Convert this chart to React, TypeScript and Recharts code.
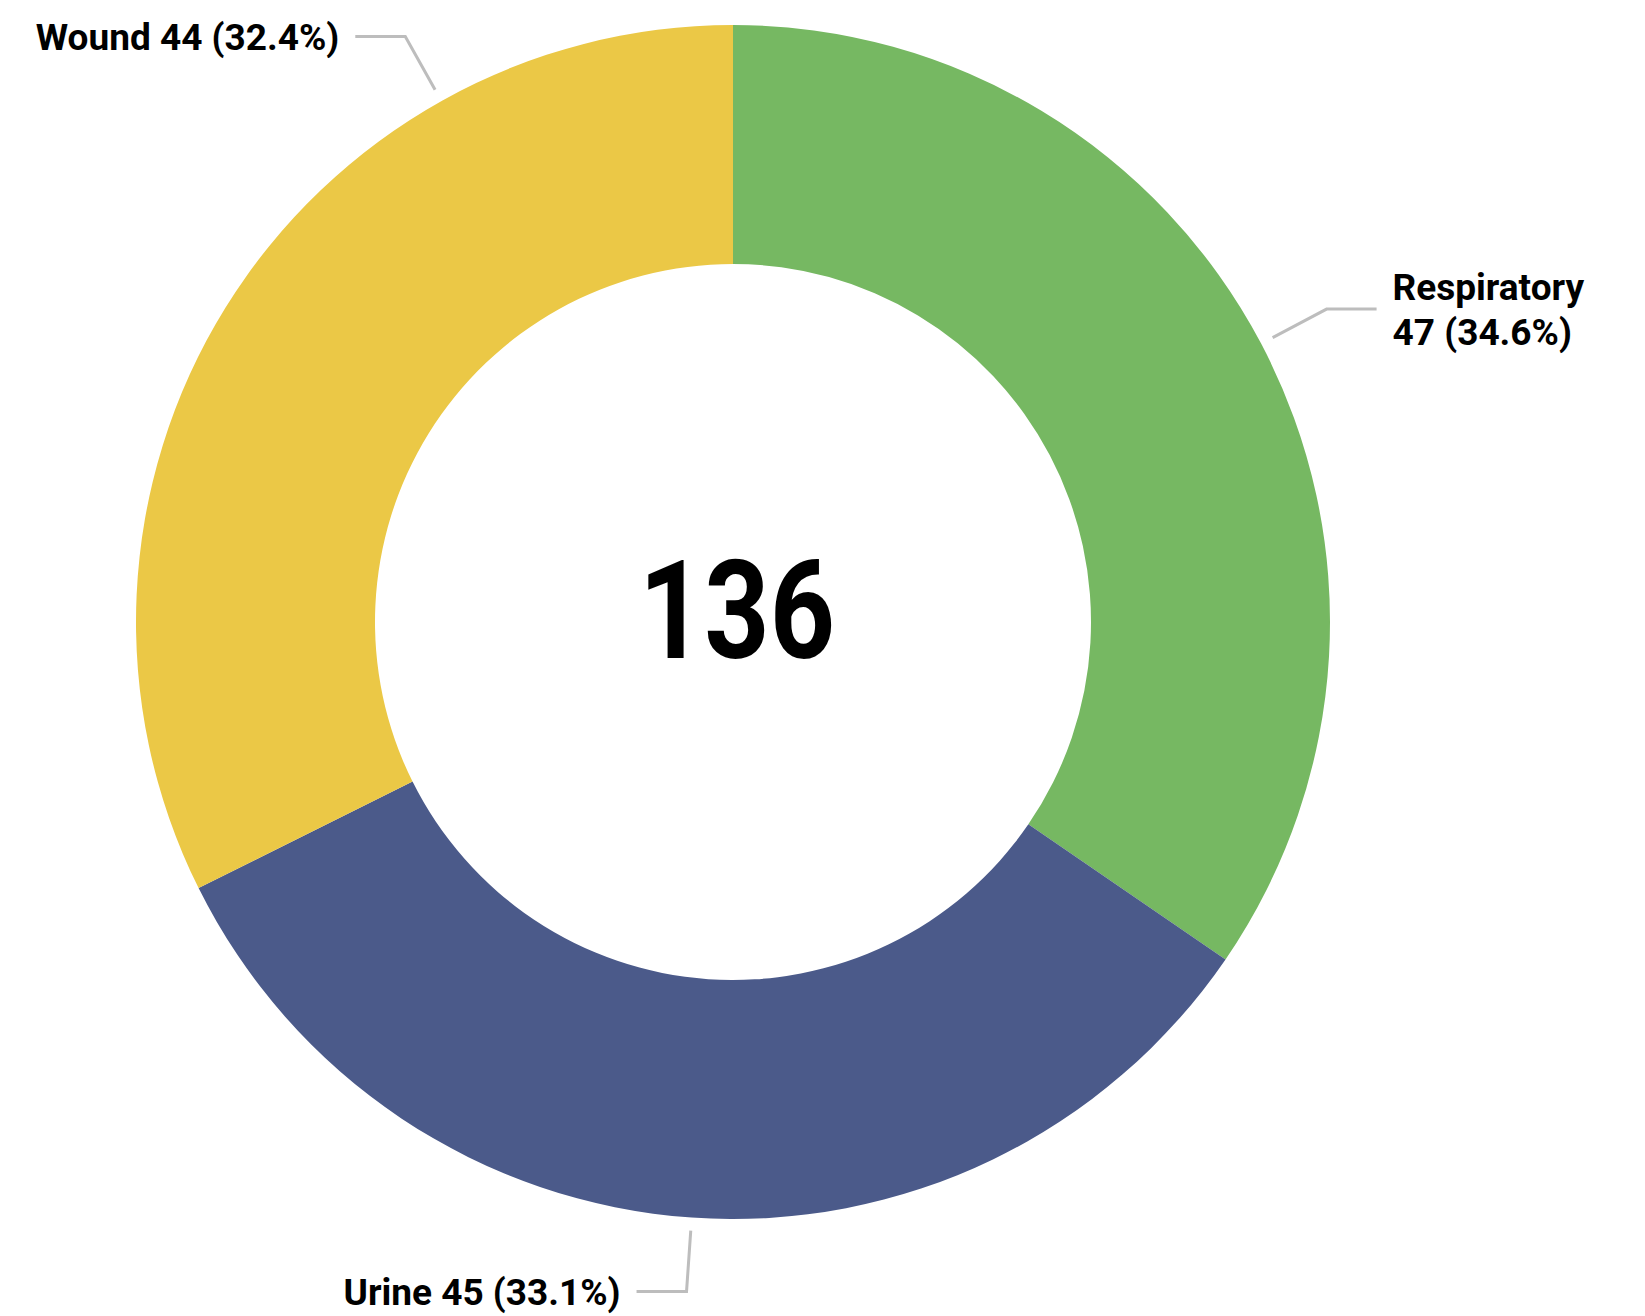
import { PieChart, Pie, Cell } from "recharts";

// ── Data ──────────────────────────────────────────────────────────────────────

const categories = ["Respiratory", "Urine", "Wound"];
const counts = [47, 45, 44];
const colors = ["#76B862", "#4B5A8A", "#EBC846"];

// label leader tweak: degrees (clockwise) added to a slice's mid angle
const labelShift: Record<string, number> = { Wound: 29 };

// ── Layout / style ────────────────────────────────────────────────────────────

const FONT = 'Roboto, "Noto Sans", sans-serif';
const W = 1645;
const H = 1316;
const LINE_COLOR = "#BDBDBD";
const LABEL_SIZE = 37;
const RAD = Math.PI / 180;

const total = counts.reduce((a, b) => a + b, 0);
const chartData = categories.map((name, i) => ({ name, value: counts[i], fill: colors[i] }));

function SliceLabel(props: any) {
  const { cx, cy, midAngle, outerRadius, name, value, index } = props;
  const ang = midAngle - (labelShift[name] || 0);
  const cos = Math.cos(-ang * RAD);
  const sin = Math.sin(-ang * RAD);
  const x1 = cx + (outerRadius + 13) * cos;
  const y1 = cy + (outerRadius + 13) * sin;
  const x2 = cx + (outerRadius + 74) * cos;
  const y2 = cy + (outerRadius + 74) * sin;
  const right = cos >= 0;
  const x3 = x2 + (right ? 50 : -50);
  const tx = x3 + (right ? 16 : -16);
  const pct = ((value / total) * 100).toFixed(1);
  const line1 = `${name} ${value} (${pct}%)`;
  const estW = line1.length * LABEL_SIZE * 0.45;
  const wrap = right ? tx + estW > W : tx - estW < 0;
  const capMid = LABEL_SIZE * 0.36;
  const lh = 45;

  return (
    <g>
      {index === 0 && (
        <text
          x={cx + 4}
          y={cy + 36}
          textAnchor="middle"
          fontFamily={FONT}
          fontWeight="bold"
          fontSize={137}
          textLength={196}
          lengthAdjust="spacingAndGlyphs"
          fill="#000"
        >
          {total}
        </text>
      )}
      <polyline
        points={`${x1},${y1} ${x2},${y2} ${x3},${y2}`}
        fill="none"
        stroke={LINE_COLOR}
        strokeWidth={3}
      />
      <text
        x={tx}
        textAnchor={right ? "start" : "end"}
        fontFamily={FONT}
        fontWeight="bold"
        fontSize={LABEL_SIZE}
        fill="#000"
      >
        {wrap ? (
          <>
            <tspan x={tx} y={y2 - lh / 2 + capMid}>{name}</tspan>
            <tspan x={tx} y={y2 + lh / 2 + capMid}>{`${value} (${pct}%)`}</tspan>
          </>
        ) : (
          <tspan x={tx} y={y2 + capMid}>{line1}</tspan>
        )}
      </text>
    </g>
  );
}

export default function App() {
  return (
    <div style={{ position: "absolute", left: 0, top: 0, width: W, height: H, background: "#fff" }}>
      <PieChart width={W} height={H} margin={{ top: 0, right: 0, bottom: 0, left: 0 }}>
        <Pie
          data={chartData}
          dataKey="value"
          nameKey="name"
          cx={733}
          cy={622}
          innerRadius={358}
          outerRadius={597}
          startAngle={90}
          endAngle={-270}
          stroke="none"
          label={SliceLabel}
          labelLine={false}
          isAnimationActive={false}
        >
          {chartData.map((d, i) => (
            <Cell key={i} fill={d.fill} />
          ))}
        </Pie>
      </PieChart>
    </div>
  );
}
